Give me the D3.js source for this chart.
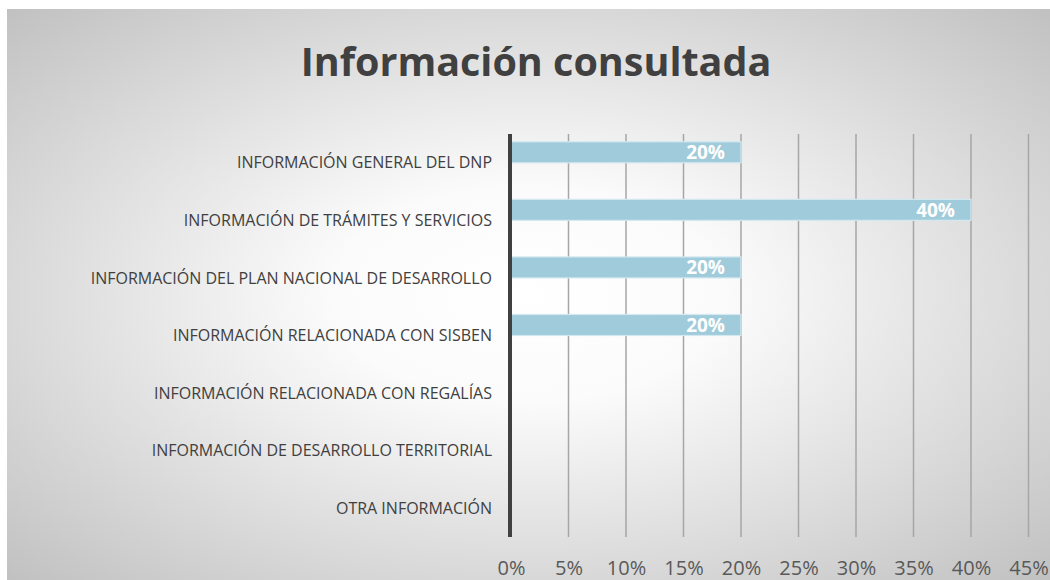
<!DOCTYPE html>
<html>
<head>
    <meta charset="UTF-8">
    <title>Información consultada</title>
    <script src="https://d3js.org/d3.v7.min.js"></script>
    <style>
        body { margin: 0; background: #fff; }
        text { font-family: "Open Sans", "Noto Sans", sans-serif; }
    </style>
</head>
<body>
    <div class="canvas"></div>
    <script>
        // data
        const categories = [
            "INFORMACIÓN GENERAL DEL DNP",
            "INFORMACIÓN DE TRÁMITES Y SERVICIOS",
            "INFORMACIÓN DEL PLAN NACIONAL DE DESARROLLO",
            "INFORMACIÓN RELACIONADA CON SISBEN",
            "INFORMACIÓN RELACIONADA CON REGALÍAS",
            "INFORMACIÓN DE DESARROLLO TERRITORIAL",
            "OTRA INFORMACIÓN"
        ];
        const values = [0.20, 0.40, 0.20, 0.20, 0, 0, 0];
        const xTicks = [0, 0.05, 0.10, 0.15, 0.20, 0.25, 0.30, 0.35, 0.40, 0.45];

        const width = 1050;
        const height = 580;
        const margin = { top: 134, right: 21, bottom: 43, left: 511 };
        const graphHeight = height - margin.top - margin.bottom;

        const svg = d3.select(".canvas")
            .append("svg")
            .attr("width", width)
            .attr("height", height);

        // background gradient
        const defs = svg.append("defs");
        const grad = defs.append("radialGradient")
            .attr("id", "bg")
            .attr("cx", "50%").attr("cy", "50%")
            .attr("r", "75%");
        grad.append("stop").attr("offset", "0%").attr("stop-color", "#ffffff");
        grad.append("stop").attr("offset", "25%").attr("stop-color", "#fbfbfb");
        grad.append("stop").attr("offset", "100%").attr("stop-color", "#bcbcbc");

        svg.append("rect")
            .attr("x", 7).attr("y", 9)
            .attr("width", width - 7).attr("height", height - 9)
            .attr("fill", "url(#bg)");

        // title
        svg.append("text")
            .attr("x", 536)
            .attr("y", 76)
            .attr("text-anchor", "middle")
            .attr("fill", "#404040")
            .attr("font-size", 39.5)
            .attr("font-weight", "bold")
            .text("Información consultada");

        const graph = svg.append("g")
            .attr("transform", `translate(${margin.left}, ${margin.top})`);

        // 40% sits at 460px from the axis
        const x = d3.scaleLinear()
            .domain([0, 0.40])
            .range([0, 460]);

        const y = d3.scaleBand()
            .domain(categories)
            .range([0, graphHeight]);

        // gridlines
        graph.append("g")
            .selectAll("line")
            .data(xTicks.slice(1))
            .enter()
            .append("line")
            .attr("x1", d => x(d)).attr("x2", d => x(d))
            .attr("y1", 0).attr("y2", graphHeight)
            .attr("stroke", "#a6a6a6")
            .attr("stroke-width", 1.5);

        // x axis labels
        const xAxis = d3.axisBottom(x)
            .tickValues(xTicks)
            .tickFormat(d3.format(".0%"))
            .tickSize(0)
            .tickPadding(23.5);

        const xAxisGroup = graph.append("g")
            .attr("transform", `translate(0, ${graphHeight})`)
            .call(xAxis);
        xAxisGroup.select(".domain").remove();
        xAxisGroup.selectAll("text")
            .attr("fill", "#595959")
            .attr("font-size", 20)
            .style("font-family", "'Open Sans', sans-serif");

        // bars (first of two series slots, gap width ~74%)
        const barH = y.bandwidth() / 2.74;
        const barOff = barH * 0.37;
        const barData = values.map((v, i) => ({ cat: categories[i], v })).filter(d => d.v > 0);

        graph.selectAll("rect.bar")
            .data(barData)
            .enter()
            .append("rect")
            .attr("class", "bar")
            .attr("x", 0)
            .attr("y", d => y(d.cat) + barOff)
            .attr("width", d => x(d.v))
            .attr("height", barH)
            .attr("fill", "#a0cbdb")
            .attr("stroke", "#d4e8f0")
            .attr("stroke-width", 1.2);

        // data labels
        graph.selectAll("text.lbl")
            .data(barData)
            .enter()
            .append("text")
            .attr("class", "lbl")
            .attr("x", d => x(d.v) - 16)
            .attr("y", d => y(d.cat) + barOff + barH / 2)
            .attr("dy", "0.36em")
            .attr("text-anchor", "end")
            .attr("fill", "#ffffff")
            .attr("font-size", 19)
            .attr("font-weight", "bold")
            .text(d => d3.format(".0%")(d.v));

        // category labels
        graph.selectAll("text.cat")
            .data(categories)
            .enter()
            .append("text")
            .attr("class", "cat")
            .attr("x", -19)
            .attr("y", d => y(d) + y.bandwidth() / 2)
            .attr("dy", "0.35em")
            .attr("text-anchor", "end")
            .attr("fill", "#404040")
            .attr("font-size", 16)
            .text(d => d);

        // vertical axis line
        graph.append("line")
            .attr("x1", -1).attr("x2", -1)
            .attr("y1", 0).attr("y2", graphHeight)
            .attr("stroke", "#404040")
            .attr("stroke-width", 4);
    </script>
</body>
</html>
